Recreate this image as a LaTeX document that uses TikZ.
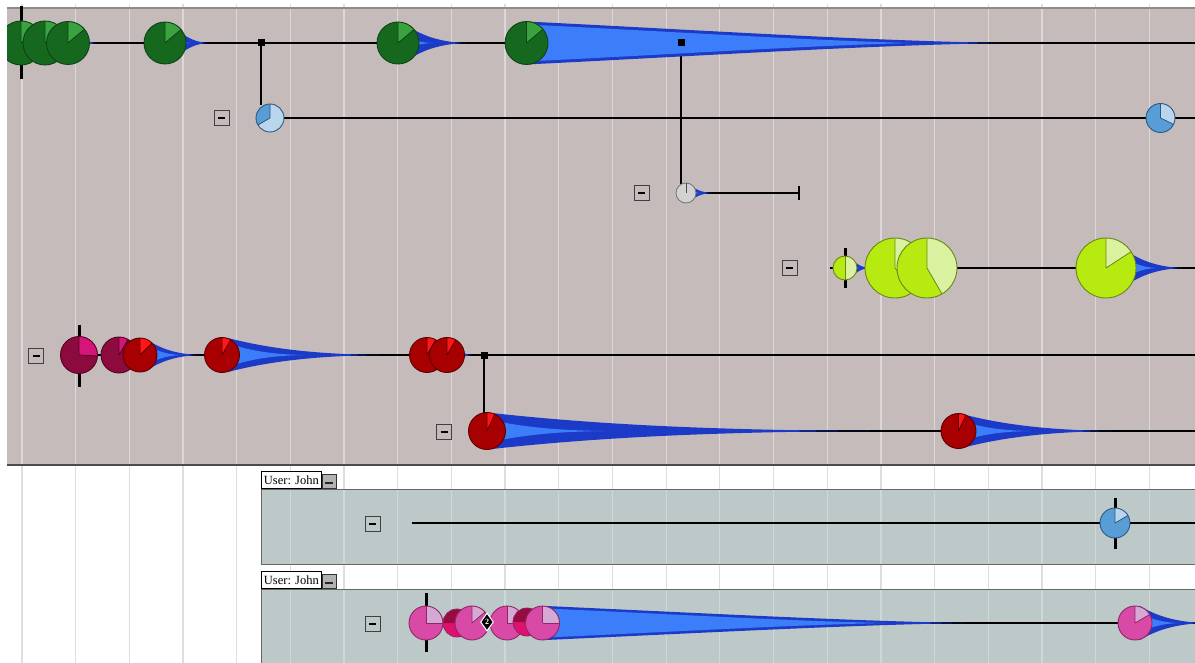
\documentclass[tikz,border=0pt]{standalone}
\usepackage{fontspec}
\setmainfont{Liberation Serif}
\usetikzlibrary{shapes.geometric}
\definecolor{topbg}{RGB}{198,187,187}
\definecolor{topgrid}{RGB}{223,215,215}
\definecolor{lowgrid}{RGB}{222,222,222}
\definecolor{panelbg}{RGB}{189,201,200}
\definecolor{panelgrid}{RGB}{207,216,215}
\definecolor{gdark}{RGB}{22,104,30}
\definecolor{glight}{RGB}{58,163,64}
\definecolor{gline}{RGB}{14,68,20}
\definecolor{bllight}{RGB}{185,214,236}
\definecolor{bldark}{RGB}{88,157,213}
\definecolor{blline}{RGB}{45,88,128}
\definecolor{grayc}{RGB}{210,210,210}
\definecolor{limec}{RGB}{183,234,16}
\definecolor{limepale}{RGB}{218,242,160}
\definecolor{limeline}{RGB}{105,135,20}
\definecolor{maroonc}{RGB}{140,10,62}
\definecolor{magc}{RGB}{214,20,122}
\definecolor{maroonline}{RGB}{80,5,35}
\definecolor{redd}{RGB}{168,0,0}
\definecolor{redb}{RGB}{255,22,22}
\definecolor{redline}{RGB}{90,0,0}
\definecolor{pinkc}{RGB}{217,74,166}
\definecolor{pinkl}{RGB}{214,168,212}
\definecolor{pinkline}{RGB}{140,40,100}
\definecolor{crimtop}{RGB}{150,12,64}
\definecolor{crimbot}{RGB}{222,18,110}
\definecolor{spdark}{RGB}{28,58,200}
\definecolor{splight}{RGB}{60,126,250}
\newcommand\piec[8]{%
  \fill[#4] (#1,#2) circle[radius=#3];
  \fill[#5] (#1,#2) -- ++(#6:#3) arc[start angle=#6,end angle=#7,radius=#3] -- cycle;
  \draw[#8,line width=0.8pt] (#1,#2) -- ++(#6:#3) (#1,#2) -- ++(#7:#3);
  \draw[#8,line width=0.9pt] (#1,#2) circle[radius=#3];
}
\newcommand\spindle[7]{%
  \pgfmathsetmacro\spL{#4-#1}%
  \pgfmathsetmacro\spI{#6*\spL}%
  \fill[spdark] (#1,{#2-#3}) .. controls ({#1+0.25*\spL},{#2-0.42*#3}) and ({#1+0.55*\spL},{#2-0.05*#3}) .. (#4,#2)
     .. controls ({#1+0.55*\spL},{#2+0.05*#3}) and ({#1+0.25*\spL},{#2+0.42*#3}) .. (#1,{#2+#3})
     .. controls ({#1-#5},{#2+0.5*#3}) and ({#1-#5},{#2-0.5*#3}) .. cycle;
  \fill[splight] (#1,{#2-#7*#3}) .. controls ({#1+0.25*\spI},{#2-0.42*#7*#3}) and ({#1+0.55*\spI},{#2-0.05*#7*#3}) .. ({#1+\spI},#2)
     .. controls ({#1+0.55*\spI},{#2+0.05*#7*#3}) and ({#1+0.25*\spI},{#2+0.42*#7*#3}) .. (#1,{#2+#7*#3}) -- cycle;
}
\tikzset{
  conn/.style={line width=2pt,black},
  vtick/.style={line width=3pt,black},
  junction/.style={fill=black,inner sep=0pt,minimum size=7pt,rectangle},
  minusbox/.style={draw=black!75,line width=1pt,minimum size=15pt,inner sep=0pt,rectangle,
    path picture={\draw[line width=2pt,black] ([xshift=-3.5pt]path picture bounding box.center) -- ([xshift=3.5pt]path picture bounding box.center);}},
  userlbl/.style={draw=black,line width=0.8pt,fill=white,inner sep=2pt,minimum width=60pt,minimum height=17.5pt,
    font=\fontsize{12.5}{12.5}\selectfont,anchor=south west},
  graybtn/.style={draw=black!80,line width=0.8pt,fill=black!30,minimum width=14pt,minimum height=14pt,inner sep=0pt,anchor=south west,
    path picture={\draw[line width=2pt,black!85] ([xshift=-4pt,yshift=-1pt]path picture bounding box.center) -- ([xshift=4pt,yshift=-1pt]path picture bounding box.center);}}
}
\begin{document}
\begin{tikzpicture}[x=1pt,y=-1pt]
\useasboundingbox (0,0) rectangle (1195,663);
\fill[white] (0,0) rectangle (1195,663);
% lower region grid
\foreach \k in {0,...,21}{
  \pgfmathsetmacro\gx{22+53.68*\k}
  \draw[lowgrid,line width=1.3pt] (\gx,4) -- (\gx,8);
  \draw[lowgrid,line width=1.3pt] (\gx,465) -- (\gx,663);
}
% panels
\fill[panelbg] (261,489.3) rectangle (1197,564.3);
\fill[panelbg] (261,589) rectangle (1197,665);
\foreach \k in {5,...,21}{
  \pgfmathsetmacro\gx{22+53.68*\k}
  \draw[panelgrid,line width=1.3pt] (\gx,489.3) -- (\gx,564.3);
  \draw[panelgrid,line width=1.3pt] (\gx,589) -- (\gx,663);
}
\draw[black!60,line width=1pt] (1197,489.3) -- (261,489.3) -- (261,564.3) -- (1197,564.3);
\draw[black!60,line width=1pt] (1197,589) -- (261,589) -- (261,665);
% top region
\fill[topbg] (7,8) rectangle (1195,465);
\foreach \k in {0,...,21}{
  \pgfmathsetmacro\gx{22+53.68*\k}
  \draw[topgrid,line width=1.3pt] (\gx,8) -- (\gx,465);
}
\draw[black!45,line width=1.2pt] (7,8) -- (1195,8);
\draw[black!70,line width=1.5pt] (7,465) -- (1195,465);

\begin{scope}
\clip (7,0) rectangle (1195,465);
% named coordinates
\coordinate (g1) at (21,43);
\coordinate (e1) at (1196,43);
\coordinate (j1) at (261,43);
\coordinate (b1top) at (261,105);
\coordinate (b1) at (270,118);
\coordinate (e2) at (1196,118);
\coordinate (j2) at (681,43);
\coordinate (grtop) at (681,184);
\coordinate (gr) at (686,193);
\coordinate (grend) at (799,193);
\coordinate (l0) at (830,268);
\coordinate (e3) at (1196,268);
\coordinate (r1) at (79,355);
\coordinate (e4) at (1196,355);
\coordinate (j3) at (484,355);
\coordinate (r7top) at (484,414);
\coordinate (r7) at (487,431);
\coordinate (e5) at (1196,431);
% connectors
\draw[conn] (g1) -- (e1);
\draw[conn] (j1) -- (b1top);
\draw[conn] (b1) -- (e2);
\draw[conn] (j2) -- (grtop);
\draw[conn] (gr) -- (grend);
\draw[conn] ([yshift=-7pt]grend) -- ([yshift=7pt]grend);
\draw[conn] (l0) -- (e3);
\draw[conn] (r1) -- (e4);
\draw[conn] (j3) -- (r7top);
\draw[conn] (r7) -- (e5);
% ticks
\draw[vtick] (21.5,6) -- (21.5,79);
\draw[vtick] (845,248) -- (845,288);
\draw[vtick] (79,325) -- (79,387);
% spindles behind
\spindle{78}{43}{10}{96}{0}{0.4}{0.3}
\spindle{172}{43}{20}{208}{0}{0.5}{0.45}
\spindle{405}{43}{19}{466}{0}{0.45}{0.4}
\fill[spdark] (526,21.5) .. controls (700,30) and (850,40) .. (1000,43) .. controls (850,46) and (700,56) .. (526,64.5) -- cycle;
\fill[splight] (526,24.5) .. controls (680,32) and (800,40) .. (910,43) .. controls (800,46) and (680,54) .. (526,61.5) -- cycle;
\spindle{689}{193}{9}{712}{0}{0.5}{0.4}
\spindle{850}{268}{11}{870}{0}{0.5}{0.4}
\spindle{1118}{268}{24}{1182}{0}{0.6}{0.7}
\spindle{146}{355}{16}{200}{0}{0.65}{0.7}
\spindle{228}{355}{17}{380}{0}{0.5}{0.7}
\spindle{452}{355}{12}{472}{0}{0.4}{0.4}
\spindle{492}{431}{18}{870}{0}{0.3}{0.6}
\spindle{962}{431}{17}{1112}{0}{0.45}{0.6}
% row 1 circles
\piec{21}{43}{22}{gdark}{glight}{-40}{-90}{gline}
\piec{45}{43}{22}{gdark}{glight}{-40}{-90}{gline}
\piec{68}{43}{21.5}{gdark}{glight}{-40}{-90}{gline}
\piec{165}{43}{21}{gdark}{glight}{-40}{-90}{gline}
\piec{398}{43}{21}{gdark}{glight}{-40}{-90}{gline}
\piec{526.5}{43}{21.5}{gdark}{glight}{-40}{-90}{gline}
% row 2
\piec{270}{118}{14}{bllight}{bldark}{-90}{-210}{blline}
\piec{1160.5}{118}{14.5}{bldark}{bllight}{26}{-90}{blline}
% gray
\fill[grayc] (gr) circle[radius=10];
\draw[black!55,line width=0.8pt] (gr) circle[radius=10];
\draw[black!70,line width=0.8pt] (gr) -- ++(0,-10);
% row 3
\piec{845}{268}{12}{limec}{limepale}{90}{-90}{limeline}
\piec{895}{268}{30}{limec}{limepale}{50}{-90}{limeline}
\piec{927}{268}{30}{limec}{limepale}{60}{-90}{limeline}
\piec{1106}{268}{30}{limec}{limepale}{-33}{-90}{limeline}
% row 4
\piec{79}{355}{18.5}{maroonc}{magc}{3}{-90}{maroonline}
\piec{119}{355}{18}{maroonc}{magc}{-60}{-90}{maroonline}
\piec{140}{355}{17}{redd}{redb}{-45}{-90}{redline}
\piec{222}{355}{17.5}{redd}{redb}{-60}{-90}{redline}
\piec{427}{355}{17.5}{redd}{redb}{-60}{-90}{redline}
\piec{447}{355}{17.5}{redd}{redb}{-60}{-90}{redline}
% row 5
\piec{487}{431}{18.5}{redd}{redb}{-65}{-90}{redline}
\piec{958.5}{431}{17.5}{redd}{redb}{-65}{-90}{redline}
% junctions
\node[junction] (jn1) at (j1) {};
\node[junction] (jn2) at (j2) {};
\node[junction] (jn3) at (j3) {};
\end{scope}
% minus buttons
\node[minusbox] (m1) at (221.5,118.5) {};
\node[minusbox] (m2) at (641.5,193) {};
\node[minusbox] (m3) at (789.5,268) {};
\node[minusbox] (m4) at (36,355.5) {};
\node[minusbox] (m5) at (444,432) {};
\node[minusbox] (m6) at (372.5,524) {};
\node[minusbox] (m7) at (372.5,624) {};
% user labels
\node[userlbl] (u1) at (261,489) {User: John};
\node[graybtn] (ub1) at (u1.south east) {};
\node[userlbl] (u2) at (261,589) {User: John};
\node[graybtn] (ub2) at (u2.south east) {};
% panel 1
\coordinate (p1s) at (412,523);
\coordinate (p1e) at (1196,523);
\draw[conn] (p1s) -- (p1e);
\draw[vtick] (1115,498) -- (1115,549);
\piec{1115}{523}{15}{bldark}{bllight}{-30}{-90}{blline}
% panel 2
\coordinate (p2s) at (426,623);
\coordinate (p2e) at (1196,623);
\draw[conn] (p2s) -- (p2e);
\draw[vtick] (426,593) -- (426,652);
\fill[spdark] (546,606) .. controls (700,613) and (850,621) .. (965,623) .. controls (850,625) and (700,633) .. (546,640) -- cycle;
\fill[splight] (546,608.5) .. controls (690,615) and (790,621) .. (885,623) .. controls (790,625) and (690,631) .. (546,637.5) -- cycle;
\spindle{1140}{623}{17}{1205}{0}{0.6}{0.6}
\piec{426}{623}{17}{pinkc}{pinkl}{0}{-90}{pinkline}
\fill[crimbot] (457,623) circle[radius=14];
\fill[crimtop] (457,623) -- ++(0:14) arc[start angle=0,end angle=-180,radius=14] -- cycle;
\draw[pinkline,line width=0.8pt] (457,623) circle[radius=14];
\piec{472}{623}{17}{pinkc}{pinkl}{-40}{-90}{pinkline}
\piec{507}{623}{17}{pinkc}{pinkl}{0}{-90}{pinkline}
\fill[crimbot] (527,622) circle[radius=14];
\fill[crimtop] (527,622) -- ++(0:14) arc[start angle=0,end angle=-180,radius=14] -- cycle;
\draw[pinkline,line width=0.8pt] (527,622) circle[radius=14];
\piec{542.5}{623}{17}{pinkc}{pinkl}{0}{-90}{pinkline}
\piec{1135}{623}{17}{pinkc}{pinkl}{-30}{-90}{pinkline}
\node[diamond,fill=black,draw=white,line width=1pt,minimum width=13pt,minimum height=18pt,inner sep=0pt,
  text=white,font=\bfseries\fontsize{8}{8}\selectfont] (badge) at (487,622) {2};
\end{tikzpicture}
\end{document}
